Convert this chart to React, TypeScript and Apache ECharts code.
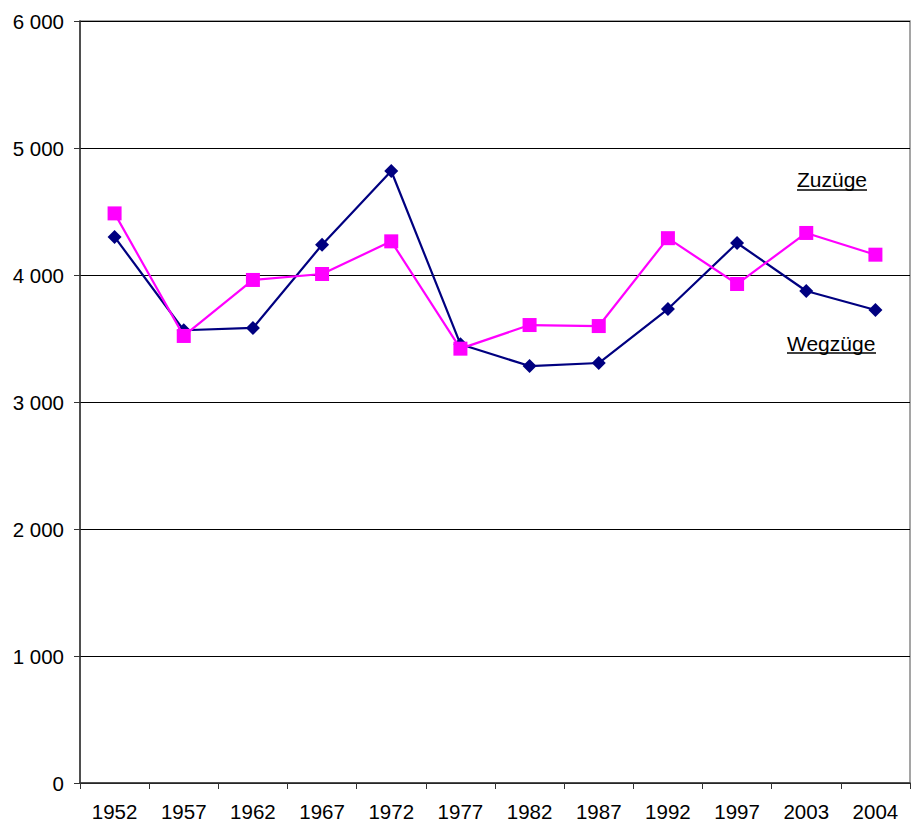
import React, { useEffect, useRef } from "react";
import * as echarts from "echarts";

const years = ["1952", "1957", "1962", "1967", "1972", "1977", "1982", "1987", "1992", "1997", "2003", "2004"];
const wegzuege = [4300, 3565, 3583, 4238, 4819, 3455, 3283, 3307, 3732, 4252, 3874, 3724];
const zuzuege = [4485, 3520, 3961, 4008, 4265, 3420, 3606, 3598, 4290, 3929, 4331, 4160];
const yTicks = { min: 0, max: 6000, interval: 1000 };

const fmt = (v: number) => {
  const s = String(Math.round(v));
  return s.replace(/\B(?=(\d{3})+(?!\d))/g, " ");
};

export default function App() {
  const ref = useRef<HTMLDivElement>(null);
  useEffect(() => {
    const chart = echarts.init(ref.current!, undefined, { renderer: "svg" });
    const font = "Liberation Sans, Arial, sans-serif";
    chart.setOption({
      animation: false,
      backgroundColor: "#ffffff",
      grid: {
        left: 80,
        top: 21,
        right: 1,
        bottom: 42,
        show: true,
        borderColor: "#888888",
        borderWidth: 1.5,
        containLabel: false,
      },
      xAxis: {
        type: "category",
        data: years,
        boundaryGap: true,
        axisLine: { show: true, lineStyle: { color: "#333333", width: 1.5 } },
        axisTick: { show: true, alignWithLabel: false, length: 6, inside: false, lineStyle: { color: "#333333" } },
        axisLabel: { color: "#000000", fontSize: 20.5, fontFamily: font, margin: 18, interval: 0 },
        splitLine: { show: false },
      },
      yAxis: {
        type: "value",
        min: yTicks.min,
        max: yTicks.max,
        interval: yTicks.interval,
        axisLine: { show: true, lineStyle: { color: "#333333", width: 1.5 } },
        axisTick: { show: true, length: 6, lineStyle: { color: "#333333" } },
        axisLabel: { color: "#000000", fontSize: 20.5, fontFamily: font, margin: 16, formatter: fmt },
        splitLine: { show: true, lineStyle: { color: "#000000", width: 1 } },
      },
      series: [
        {
          name: "Wegzüge",
          type: "line",
          data: wegzuege,
          symbol: "diamond",
          symbolSize: 14,
          lineStyle: { color: "#000080", width: 2.2 },
          itemStyle: { color: "#000080" },
          z: 2,
        },
        {
          name: "Zuzüge",
          type: "line",
          data: zuzuege,
          symbol: "rect",
          symbolSize: 14,
          lineStyle: { color: "#ff00ff", width: 2.2 },
          itemStyle: { color: "#ff00ff" },
          z: 3,
        },
      ],
      graphic: [
        {
          type: "text",
          left: 797,
          top: 169,
          style: { text: "Zuzüge", fontSize: 21, fontFamily: font, fill: "#000000" },
        },
        {
          type: "line",
          shape: { x1: 797, y1: 190, x2: 867, y2: 190 },
          style: { stroke: "#000000", lineWidth: 1.6 },
        },
        {
          type: "text",
          left: 787,
          top: 333,
          style: { text: "Wegzüge", fontSize: 21, fontFamily: font, fill: "#000000" },
        },
        {
          type: "line",
          shape: { x1: 787, y1: 353, x2: 876, y2: 353 },
          style: { stroke: "#000000", lineWidth: 1.6 },
        },
      ],
    });
    return () => chart.dispose();
  }, []);
  return (
    <div
      ref={ref}
      style={{ position: "fixed", left: 0, top: 0, width: 911, height: 825, background: "#fff" }}
    />
  );
}
